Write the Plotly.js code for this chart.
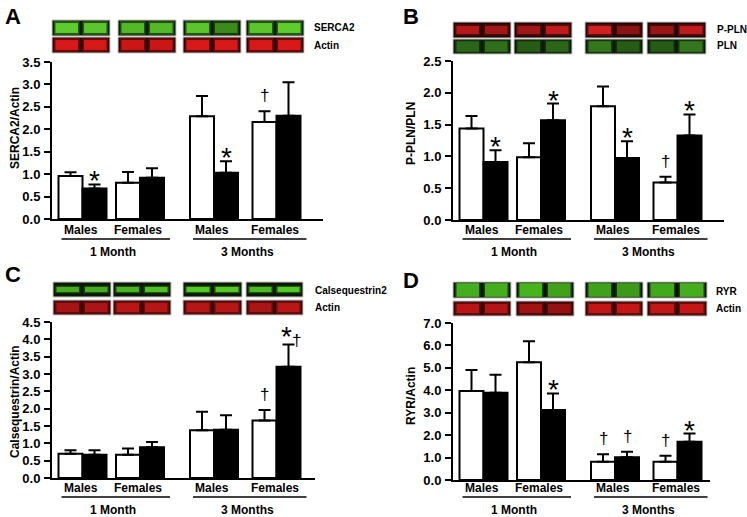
<!DOCTYPE html>
<html><head><meta charset="utf-8">
<script src="https://cdn.plot.ly/plotly-3.0.1.min.js"></script>
<style>html,body{margin:0;padding:0;background:#fff}#chart{width:747px;height:517px}</style>
</head><body><div id="chart"></div>
<script>
// ---------------- DATA ----------------
const groups = ['Males', 'Females', 'Males', 'Females'];
const months = ['1 Month', '3 Months'];

// Panel A: SERCA2/Actin
const serca_white = [0.96, 0.81, 2.29, 2.16];
const serca_white_err = [0.08, 0.24, 0.45, 0.24];
const serca_black = [0.68, 0.92, 1.03, 2.30];
const serca_black_err = [0.09, 0.21, 0.26, 0.75];
const serca_white_sig = ['', '', '', '†'];
const serca_black_sig = ['*', '', '*', ''];

// Panel B: P-PLN/PLN
const ppln_white = [1.44, 0.985, 1.79, 0.59];
const ppln_white_err = [0.195, 0.22, 0.31, 0.09];
const ppln_black = [0.91, 1.57, 0.975, 1.33];
const ppln_black_err = [0.185, 0.26, 0.265, 0.33];
const ppln_white_sig = ['', '', '', '†'];
const ppln_black_sig = ['*', '*', '*', '*'];

// Panel C: Calsequestrin/Actin
const casq_white = [0.70, 0.67, 1.38, 1.66];
const casq_white_err = [0.10, 0.18, 0.53, 0.30];
const casq_black = [0.67, 0.89, 1.39, 3.21];
const casq_black_err = [0.13, 0.15, 0.42, 0.64];
const casq_white_sig = ['', '', '', '†'];
const casq_black_sig = ['', '', '', '*†'];

// Panel D: RYR/Actin
const ryr_white = [3.97, 5.25, 0.81, 0.81];
const ryr_white_err = [0.93, 0.94, 0.34, 0.27];
const ryr_black = [3.89, 3.12, 1.01, 1.70];
const ryr_black_err = [0.80, 0.74, 0.25, 0.37];
const ryr_white_sig = ['', '', '†', '†'];
const ryr_black_sig = ['', '*', '†', '*'];

const yTitles = ['SERCA2/Actin', 'P-PLN/PLN', 'Calsequestrin/Actin', 'RYR/Actin'];
const blotLabels = [['SERCA2', 'Actin'], ['P-PLN', 'PLN'], ['Calsequestrin2', 'Actin'], ['RYR', 'Actin']];
const panelLetters = ['A', 'B', 'C', 'D'];
const yMax = [3.5, 2.5, 4.5, 7.0];
const yStep = [0.5, 0.5, 0.5, 1.0];

const series = [
  {w: serca_white, we: serca_white_err, b: serca_black, be: serca_black_err, ws: serca_white_sig, bs: serca_black_sig},
  {w: ppln_white, we: ppln_white_err, b: ppln_black, be: ppln_black_err, ws: ppln_white_sig, bs: ppln_black_sig},
  {w: casq_white, we: casq_white_err, b: casq_black, be: casq_black_err, ws: casq_white_sig, bs: casq_black_sig},
  {w: ryr_white, we: ryr_white_err, b: ryr_black, be: ryr_black_err, ws: ryr_white_sig, bs: ryr_black_sig}
];

// ---------------- LAYOUT GEOMETRY (pixels) ----------------
const W = 747, H = 517;
const FONT = 'Liberation Sans, Arial, sans-serif';
const pairCenters = [30.5, 88, 162, 224.5];
const barW = 24;
const B = t => '<b>' + t + '</b>';

const geo = [
  {ax:52, axEnd:323, yTop:62, yBot:219, letter:[3,2], yt:[15,128], lab:[230,239,252],
   rows:[[20,36],[37,53]], strips:[[52,110],[118,176],[183,241],[246,304]], bl:[312,[28,45]],
   blot:[{bg:'#0a1c04', glow:'#3a9a18', band:'#6ae034', frac:0.62, lanes:[[1,0.95],[0.85,0.85],[0.95,0.55],[0.95,1]]},
         {bg:'#300303', glow:'#a01010', band:'#ec1c1c', frac:0.62, lanes:[[1,1],[0.9,0.9],[1,1],[1,1]]}]},
  {ax:453, axEnd:724, yTop:61, yBot:220, letter:[401,2], yt:[411,133], lab:[230,239,252],
   rows:[[22,38],[39,54]], strips:[[453,511],[514,572],[585,643],[647,706]], bl:[715,[29,46]],
   blot:[{bg:'#220505', glow:'#8a1212', band:'#d02020', frac:0.5, lanes:[[0.9,0.75],[0.75,1],[1.2,0.6],[0.7,1]]},
         {bg:'#0a1c05', glow:'#25561a', band:'#3c8a22', frac:0.7, lanes:[[0.7,0.8],[0.6,0.7],[0.9,0.6],[0.6,0.9]]}]},
  {ax:52, axEnd:315, yTop:322, yBot:478, letter:[3,260], yt:[15,402], lab:[488,497,510],
   rows:[[282,297],[300,315]], strips:[[53,111],[113,171],[183,242],[246,303]], bl:[313,[290,307]],
   blot:[{bg:'#0c1805', glow:'#2e7a14', band:'#5ae02a', frac:0.35, lanes:[[0.8,0.8],[0.85,0.95],[1,1],[0.9,1]]},
         {bg:'#3c0606', glow:'#8e1414', band:'#c81a1a', frac:0.6, lanes:[[0.8,0.85],[1,0.95],[0.95,0.95],[0.85,1]]}]},
  {ax:453, axEnd:710, yTop:323, yBot:480, letter:[401,266], yt:[411,396], lab:[488,497,510],
   rows:[[282,298],[301,316]], strips:[[453,511],[516,574],[585,643],[647,707]], bl:[714,[291,308]],
   blot:[{bg:'#081003', glow:'#2a7a12', band:'#50c822', frac:0.85, lanes:[[0.95,0.95],[1,0.85],[0.85,0.8],[0.9,0.95]]},
         {bg:'#300505', glow:'#9a1414', band:'#d41a1a', frac:0.6, lanes:[[0.9,0.85],[0.7,0.6],[1,1],[1,1]]}]}
];

const px = x => x / W;
const py = y => 1 - y / H;

const data = [];
const layout = {
  width: W, height: H,
  margin: {l:0, r:0, t:0, b:0},
  paper_bgcolor: '#ffffff', plot_bgcolor: 'rgba(0,0,0,0)',
  showlegend: false, barmode: 'overlay',
  font: {family: FONT, color: '#000'},
  annotations: [], shapes: []
};

geo.forEach((g, i) => {
  const n = i === 0 ? '' : String(i + 1);
  const xa = 'x' + n, ya = 'y' + n;
  const s = series[i];
  const len = g.axEnd - g.ax;
  const xW = pairCenters.map(c => c - barW / 2);
  const xB = pairCenters.map(c => c + barW / 2);
  const tv = [];
  for (let v = 0; v <= yMax[i] + 1e-9; v += yStep[i]) tv.push(Math.round(v * 10) / 10);

  layout['xaxis' + n] = {
    domain: [px(g.ax), px(g.axEnd)], range: [0, len], anchor: ya,
    showline: true, linewidth: 2, linecolor: '#000', ticks: '', showticklabels: false,
    showgrid: false, zeroline: false, fixedrange: true
  };
  layout['yaxis' + n] = {
    domain: [py(g.yBot), py(g.yTop)], range: [0, yMax[i]], anchor: xa,
    showline: true, linewidth: 2, linecolor: '#000', ticks: 'outside', ticklen: 6, tickwidth: 2,
    tickcolor: '#000', tickmode: 'array', tickvals: tv, ticktext: tv.map(v => B(v.toFixed(1))),
    tickfont: {family: FONT, size: 13, color: '#000'}, ticklabelstandoff: 1,
    showgrid: false, zeroline: false, fixedrange: true
  };

  data.push({
    type: 'bar', x: xW, y: s.w, width: barW, xaxis: xa, yaxis: ya,
    marker: {color: '#ffffff', line: {color: '#000', width: 2}},
    error_y: {type: 'data', symmetric: false, array: s.we, arrayminus: s.we.map(() => 0), color: '#000', thickness: 2, width: 6},
    hoverinfo: 'skip'
  });
  data.push({
    type: 'bar', x: xB, y: s.b, width: barW, xaxis: xa, yaxis: ya,
    marker: {color: '#000000', line: {color: '#000', width: 2}},
    error_y: {type: 'data', symmetric: false, array: s.be, arrayminus: s.be.map(() => 0), color: '#000', thickness: 2, width: 6},
    hoverinfo: 'skip'
  });

  // significance marks
  const addSig = (xs, vals, errs, sigs) => {
    sigs.forEach((t, k) => {
      if (!t) return;
      const hasStar = t.indexOf('*') >= 0;
      let text = t, size = 17, shift = 4, xs2 = 0;
      if (hasStar && t.length > 1) { text = '*<span style="font-size:17px">†</span>'; size = 28; shift = -9; xs2 = 2; }
      else if (hasStar) { size = 28; shift = -14; }
      layout.annotations.push({
        xref: xa, yref: ya, x: xs[k], y: vals[k] + errs[k], text: text,
        xanchor: 'center', yanchor: 'bottom', yshift: shift, xshift: xs2, showarrow: false,
        font: {family: FONT, size: size, color: '#000'}
      });
    });
  };
  addSig(xW, s.w, s.we, s.ws);
  addSig(xB, s.b, s.be, s.bs);

  // panel letter
  layout.annotations.push({xref:'paper', yref:'paper', x:px(g.letter[0]), y:py(g.letter[1]), xanchor:'left', yanchor:'top',
    text: B(panelLetters[i]), showarrow:false, font:{family:FONT, size:22, color:'#000'}});
  // y title
  layout.annotations.push({xref:'paper', yref:'paper', x:px(g.yt[0]), y:py(g.yt[1]), xanchor:'center', yanchor:'middle',
    textangle:-90, text: B(yTitles[i]), showarrow:false, font:{family:FONT, size:12, color:'#000'}});
  // group labels
  pairCenters.forEach((c, k) => {
    layout.annotations.push({xref:xa, yref:'paper', x:c - 2, y:py(g.lab[0]), xanchor:'center', yanchor:'middle',
      text: B(groups[k]), showarrow:false, font:{family:FONT, size:12, color:'#000'}});
  });
  // month labels + underlines
  [0, 1].forEach(m => {
    const c1 = pairCenters[2 * m], c2 = pairCenters[2 * m + 1];
    layout.shapes.push({type:'line', xref:xa, yref:'paper', x0:c1 - 21, x1:c2 + 30, y0:py(g.lab[1]), y1:py(g.lab[1]),
      line:{color:'#000', width:1.5}});
    layout.annotations.push({xref:xa, yref:'paper', x:(c1 + c2) / 2 + 2, y:py(g.lab[2]), xanchor:'center', yanchor:'middle',
      text: B(months[m]), showarrow:false, font:{family:FONT, size:12, color:'#000'}});
  });

  // western blot strips (decorative)
  g.rows.forEach((r, ri) => {
    const st = g.blot[ri];
    const rh = r[1] - r[0], rc = (r[0] + r[1]) / 2;
    g.strips.forEach((sx, si) => {
      layout.shapes.push({type:'rect', xref:'paper', yref:'paper', x0:px(sx[0]), x1:px(sx[1]), y0:py(r[1]), y1:py(r[0]),
        fillcolor: st.bg, line:{color:'#c8c8c8', width:1}, layer:'above'});
      const mid = (sx[0] + sx[1]) / 2;
      const lanes = [[sx[0] + 2, mid - 1.5], [mid + 1.5, sx[1] - 2]];
      lanes.forEach((ln, li) => {
        const a = st.lanes[si][li];
        const gh = Math.min(rh - 2, rh * st.frac * 1.45) / 2;
        layout.shapes.push({type:'rect', xref:'paper', yref:'paper', x0:px(ln[0]), x1:px(ln[1]), y0:py(rc + gh), y1:py(rc - gh),
          fillcolor: st.glow, opacity: Math.min(1, 0.5 * a), line:{width:0}, layer:'above'});
        const bh = rh * st.frac / 2;
        layout.shapes.push({type:'rect', xref:'paper', yref:'paper', x0:px(ln[0] + 1.5), x1:px(ln[1] - 1.5), y0:py(rc + bh), y1:py(rc - bh),
          fillcolor: st.band, opacity: Math.min(1, 0.85 * a), line:{width:0}, layer:'above'});
      });
    });
    layout.annotations.push({xref:'paper', yref:'paper', x:px(g.bl[0]), y:py(g.bl[1][ri]), xanchor:'left', yanchor:'middle',
      text: B(blotLabels[i][ri]), showarrow:false, font:{family:FONT, size:10, color:'#000'}});
  });
});

Plotly.newPlot('chart', data, layout, {staticPlot: true, displayModeBar: false});
</script>
</body></html>
